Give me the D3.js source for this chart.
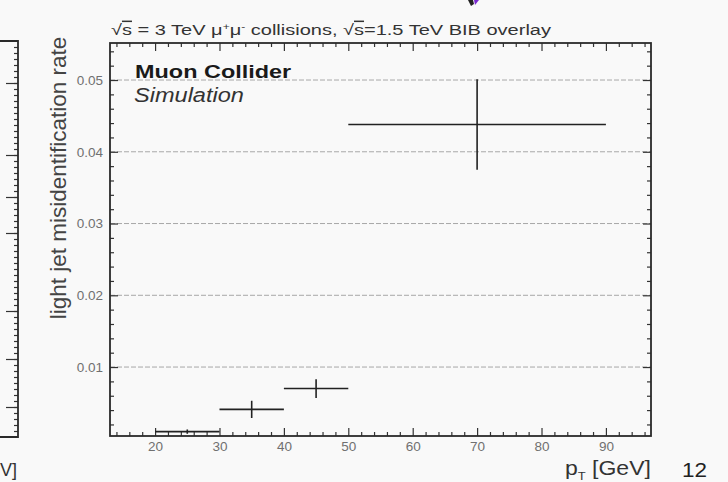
<!DOCTYPE html>
<html>
<head>
  <script src="https://d3js.org/d3.v7.min.js"></script>
  <style>
    body { margin: 0; background: #f9f9f9; }
    text { font-family: "Liberation Sans", Arial, sans-serif; }
  </style>
</head>
<body>
  <div id="chart"></div>

  <script>
    // pT bins (GeV) and light jet misidentification rate
    var binLow = [20, 30, 40, 50];
    var binHigh = [30, 40, 50, 90];
    var rate = [0.0010, 0.0041, 0.0070, 0.0438];
    var rateErr = [0.0003, 0.0012, 0.0013, 0.0063];

    var xTicks = [20, 30, 40, 50, 60, 70, 80, 90];
    var yTicks = [0.01, 0.02, 0.03, 0.04, 0.05];

    var W = 728, H = 482;
    var frame = {left: 110, right: 651, top: 43, bottom: 436};

    var svg = d3.select("#chart")
      .append("svg")
      .attr("width", W)
      .attr("height", H);

    svg.append("rect")
      .attr("width", W)
      .attr("height", H)
      .attr("fill", "#f9f9f9");

    var x = d3.scaleLinear()
      .domain([13, 97])
      .range([frame.left, frame.right]);

    var y = d3.scaleLinear()
      .domain([0.00039, 0.05516])
      .range([frame.bottom, frame.top]);

    var xMinor = d3.range(14, 97, 2).filter(function(v) { return v % 10 != 0; });
    var yMinor = d3.range(1, 28).map(function(i) { return i * 0.002; })
      .filter(function(v) { return Math.round(v * 1000) % 10 != 0 && v < 0.0551; });

    // stretch a text horizontally so it spans the given width
    function stretch(sel, width) {
      var b = sel.node().getBBox();
      var s = width / b.width;
      sel.attr("transform", "translate(" + b.x + ",0) scale(" + s + ",1) translate(" + (-b.x) + ",0)");
    }

    // dashed grid lines at the major y ticks
    svg.append("g")
      .selectAll("line")
      .data(yTicks)
      .join("line")
      .attr("x1", frame.left)
      .attr("x2", frame.right)
      .attr("y1", function(d) { return y(d); })
      .attr("y2", function(d) { return y(d); })
      .attr("stroke", "#a8a8a8")
      .attr("stroke-width", 1)
      .attr("stroke-dasharray", "5,2");

    function styleAxis(g) {
      g.select(".domain").remove();
      g.selectAll(".tick line").attr("stroke", "#333").attr("stroke-width", 1.2);
      g.selectAll(".tick text")
        .attr("fill", "#707070")
        .style("font-size", "13.5px")
        .style("font-family", "'Liberation Sans', Arial, sans-serif");
    }

    // bottom axis
    svg.append("g")
      .attr("transform", "translate(0," + frame.bottom + ")")
      .call(d3.axisBottom(x).tickValues(xTicks).tickSize(-8).tickPadding(5).tickFormat(d3.format("d")))
      .call(styleAxis);
    svg.append("g")
      .attr("transform", "translate(0," + frame.bottom + ")")
      .call(d3.axisBottom(x).tickValues(xMinor).tickSize(-4).tickFormat(""))
      .call(styleAxis);

    // top axis
    svg.append("g")
      .attr("transform", "translate(0," + frame.top + ")")
      .call(d3.axisTop(x).tickValues(xTicks).tickSize(-8).tickFormat(""))
      .call(styleAxis);
    svg.append("g")
      .attr("transform", "translate(0," + frame.top + ")")
      .call(d3.axisTop(x).tickValues(xMinor).tickSize(-4).tickFormat(""))
      .call(styleAxis);

    // left axis
    svg.append("g")
      .attr("transform", "translate(" + frame.left + ",0)")
      .call(d3.axisLeft(y).tickValues(yTicks).tickSize(-8).tickPadding(7).tickFormat(d3.format(".2f")))
      .call(styleAxis);
    svg.append("g")
      .attr("transform", "translate(" + frame.left + ",0)")
      .call(d3.axisLeft(y).tickValues(yMinor).tickSize(-4).tickFormat(""))
      .call(styleAxis);

    // right axis
    svg.append("g")
      .attr("transform", "translate(" + frame.right + ",0)")
      .call(d3.axisRight(y).tickValues(yTicks).tickSize(-8).tickFormat(""))
      .call(styleAxis);
    svg.append("g")
      .attr("transform", "translate(" + frame.right + ",0)")
      .call(d3.axisRight(y).tickValues(yMinor).tickSize(-4).tickFormat(""))
      .call(styleAxis);

    // frame
    svg.append("rect")
      .attr("x", frame.left)
      .attr("y", frame.top)
      .attr("width", frame.right - frame.left)
      .attr("height", frame.bottom - frame.top)
      .attr("fill", "none")
      .attr("stroke", "#2a2a2a")
      .attr("stroke-width", 1.8);

    // data points with error bars
    var pts = svg.append("g")
      .selectAll("g")
      .data(rate)
      .join("g");

    pts.append("line")
      .attr("x1", function(d, i) { return x(binLow[i]); })
      .attr("x2", function(d, i) { return x(binHigh[i]); })
      .attr("y1", function(d) { return y(d); })
      .attr("y2", function(d) { return y(d); })
      .attr("stroke", "#222")
      .attr("stroke-width", 1.6);

    pts.append("line")
      .attr("x1", function(d, i) { return x((binLow[i] + binHigh[i]) / 2); })
      .attr("x2", function(d, i) { return x((binLow[i] + binHigh[i]) / 2); })
      .attr("y1", function(d, i) { return y(d - rateErr[i]); })
      .attr("y2", function(d, i) { return y(d + rateErr[i]); })
      .attr("stroke", "#222")
      .attr("stroke-width", 1.6);

    // labels
    var title = svg.append("text")
      .attr("x", 111)
      .attr("y", 35)
      .attr("fill", "#333")
      .style("font-size", "15px");
    title.append("tspan").text("\u221A");
    title.append("tspan").attr("text-decoration", "overline").text("s");
    title.append("tspan").text(" = 3 TeV  \u03BC");
    title.append("tspan").attr("dy", -5).style("font-size", "9px").text("+");
    title.append("tspan").attr("dy", 5).text("\u03BC");
    title.append("tspan").attr("dy", -5).style("font-size", "9px").text("-");
    title.append("tspan").attr("dy", 5).text(" collisions, \u221A");
    title.append("tspan").attr("text-decoration", "overline").text("s");
    title.append("tspan").text("=1.5 TeV BIB overlay");
    stretch(title, 441);

    var muon = svg.append("text")
      .attr("x", 135)
      .attr("y", 78)
      .attr("fill", "#1a1a1a")
      .style("font-size", "19px")
      .style("font-weight", "bold")
      .text("Muon Collider");
    stretch(muon, 157);

    var sim = svg.append("text")
      .attr("x", 134)
      .attr("y", 102)
      .attr("fill", "#333")
      .style("font-size", "19.5px")
      .style("font-style", "italic")
      .text("Simulation");
    stretch(sim, 110);

    svg.append("text")
      .attr("transform", "rotate(-90)")
      .attr("x", -178)
      .attr("y", 66)
      .attr("text-anchor", "middle")
      .attr("fill", "#444")
      .style("font-size", "22.5px")
      .text("light jet misidentification rate");

    var xl = svg.append("text")
      .attr("x", 565)
      .attr("y", 475)
      .attr("fill", "#333")
      .style("font-size", "19.5px");
    xl.append("tspan").text("p");
    xl.append("tspan").attr("dy", 5).style("font-size", "11px").text("T");
    xl.append("tspan").attr("dy", -5).text(" [GeV]");
    stretch(xl, 86);

    var page = svg.append("text")
      .attr("x", 682)
      .attr("y", 477)
      .attr("fill", "#222")
      .style("font-size", "20.5px")
      .text("12");
    stretch(page, 25);

    // neighbouring panel (cut off at the left edge)
    var side = d3.scaleLinear().domain([0, 66]).range([437, 41]);
    svg.append("g")
      .attr("transform", "translate(18,0)")
      .call(d3.axisRight(side).tickValues(d3.range(1, 66)).tickSize(-4).tickFormat(""))
      .call(styleAxis);
    svg.append("g")
      .attr("transform", "translate(18,0)")
      .call(d3.axisRight(side).tickValues([5, 13, 21, 34, 40, 47, 59]).tickSize(-12).tickFormat(""))
      .call(styleAxis);
    svg.append("path")
      .attr("d", "M0,41H18V437H0")
      .attr("fill", "none")
      .attr("stroke", "#2a2a2a")
      .attr("stroke-width", 1.8);
    svg.append("text")
      .attr("x", 0)
      .attr("y", 476)
      .attr("fill", "#333")
      .style("font-size", "18px")
      .text("V]");

    // cut-off glyph of the slide title above
    svg.append("path")
      .attr("d", "M468,0L473,0L474,4L471,6Z")
      .attr("fill", "#222");
    svg.append("path")
      .attr("d", "M474,0L479,0L475,5Z")
      .attr("fill", "#7a2bd0");
  </script>
</body>
</html>
